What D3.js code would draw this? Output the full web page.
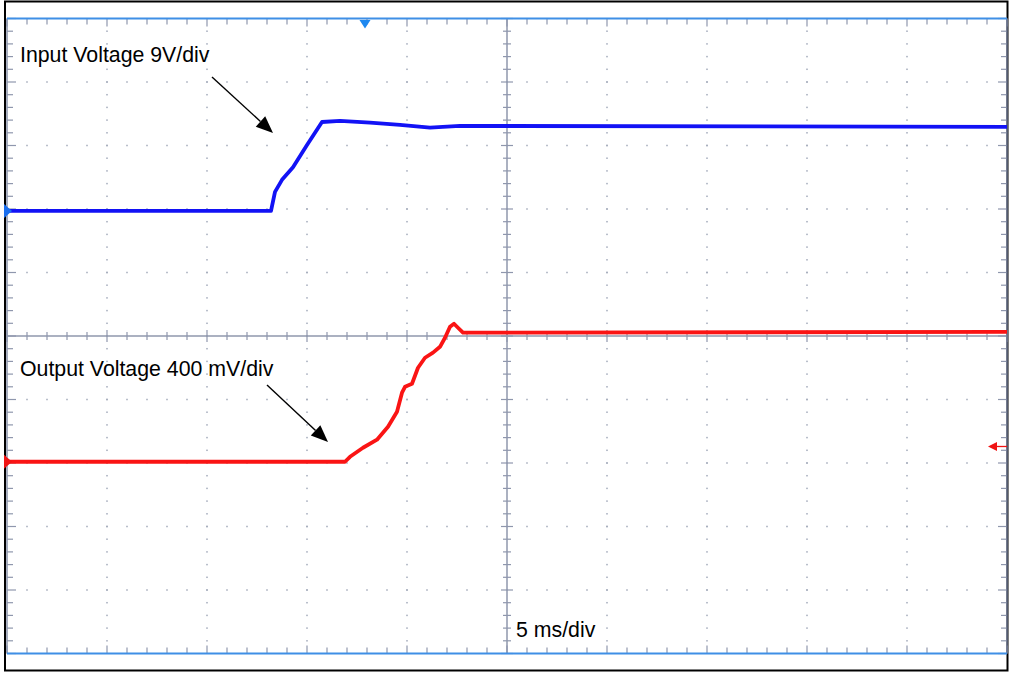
<!DOCTYPE html>
<html>
<head>
<meta charset="utf-8">
<script src="https://cdn.jsdelivr.net/npm/d3@7"></script>
<style>
  html, body { margin: 0; padding: 0; background: #fff; }
  svg { display: block; }
  text { font-family: "Liberation Sans", Arial, sans-serif; fill: #000; }
</style>
</head>
<body>
<svg id="chart" width="1010" height="673"></svg>
<script>
// ---- Data (time in ms, centre of screen = 0 ms; 5 ms/div) ----
const inputTime = [-25, -11.8, -11.6, -11.25, -10.7, -10.0, -9.25, -8.35, -6.85, -5.35, -3.85, -2.35, 25];
const inputVolts = [0, 0, 2.7, 4.4, 6.2, 9.35, 12.6, 12.75, 12.5, 12.2, 11.8, 12.05, 11.9];   // 9 V/div
const outputTime = [-25, -8.1, -7.85, -7.2, -6.5, -5.95, -5.5, -5.25, -5.1, -4.75, -4.45, -4.1, -3.7, -3.35, -3.1, -2.85, -2.65, -2.45, -2.2, -1.85, 25];
const outputVolts = [0, 0, 0.031, 0.088, 0.139, 0.22, 0.315, 0.435, 0.472, 0.491, 0.592, 0.655, 0.687, 0.724, 0.781, 0.85, 0.869, 0.844, 0.813, 0.813, 0.818]; // 400 mV/div
const labels = ["Input Voltage 9V/div", "Output Voltage 400 mV/div", "5 ms/div"];
const timeDomain = [-25, 25];
const divDomain = [-5, 5];
const inputScale = 9, inputOffsetDiv = 1.97;
const outputScale = 0.4, outputOffsetDiv = -1.98;
const triggerTime = -7.1;
const triggerLevelDiv = -1.74;

// ---- Drawing ----
const svg = d3.select("#chart");
const x = d3.scaleLinear().domain(timeDomain).range([7, 1007]);
const y = d3.scaleLinear().domain(divDomain).range([653.5, 18.5]);

// outer frame
svg.append("rect").attr("x", 5).attr("y", 1.5).attr("width", 1002.5).attr("height", 669)
  .attr("fill", "none").attr("stroke", "#000").attr("stroke-width", 2);

const gridCol = "#8f97ad";
const g = svg.append("g");

const majorX = d3.range(-25, 25.001, 5);
const minorX = d3.range(-25, 25.001, 1);
const majorY = d3.range(-5, 5.001, 1);
const minorY = d3.range(-5, 5.001, 0.2);

// dotted grid
majorX.filter(v => v !== 0 && Math.abs(v) !== 25).forEach(v => {
  g.selectAll(null).data(minorY.filter(m => Math.abs(m) < 4.99)).enter().append("rect")
    .attr("x", x(v) - 0.75).attr("y", d => y(d) - 0.75).attr("width", 1.5).attr("height", 1.5)
    .attr("fill", "#a3aabb");
});
majorY.filter(v => v !== 0 && Math.abs(v) !== 5).forEach(v => {
  g.selectAll(null).data(minorX.filter(m => Math.abs(m) < 24.99)).enter().append("rect")
    .attr("x", d => x(d) - 0.75).attr("y", y(v) - 0.75).attr("width", 1.5).attr("height", 1.5)
    .attr("fill", "#a3aabb");
});

// centre lines
g.append("line").attr("x1", x(0)).attr("x2", x(0)).attr("y1", y(5)).attr("y2", y(-5))
  .attr("stroke", gridCol).attr("stroke-width", 1.5);
g.append("line").attr("x1", x(-25)).attr("x2", x(25)).attr("y1", y(0)).attr("y2", y(0))
  .attr("stroke", gridCol).attr("stroke-width", 1.5);

function isMajor(v, step) { return Math.abs(v / step - Math.round(v / step)) < 1e-6; }

// ticks on centre lines
minorY.forEach(v => {
  const L = isMajor(v, 1) ? 6 : 4;
  g.append("line").attr("x1", x(0) - L).attr("x2", x(0) + L).attr("y1", y(v)).attr("y2", y(v))
    .attr("stroke", gridCol).attr("stroke-width", 1.2);
});
minorX.forEach(v => {
  const L = isMajor(v, 5) ? 6 : 4;
  g.append("line").attr("y1", y(0) - L).attr("y2", y(0) + L).attr("x1", x(v)).attr("x2", x(v))
    .attr("stroke", gridCol).attr("stroke-width", 1.2);
});

// edge ticks
minorX.forEach(v => {
  const L = isMajor(v, 5) ? 8 : 6;
  g.append("line").attr("x1", x(v)).attr("x2", x(v)).attr("y1", y(5)).attr("y2", y(5) + L)
    .attr("stroke", gridCol).attr("stroke-width", 1.2);
  g.append("line").attr("x1", x(v)).attr("x2", x(v)).attr("y1", y(-5)).attr("y2", y(-5) - L)
    .attr("stroke", gridCol).attr("stroke-width", 1.2);
});
minorY.forEach(v => {
  const L = isMajor(v, 1) ? 9 : 6;
  g.append("line").attr("x1", x(-25)).attr("x2", x(-25) + L).attr("y1", y(v)).attr("y2", y(v))
    .attr("stroke", gridCol).attr("stroke-width", 1.2);
  g.append("line").attr("x1", x(25)).attr("x2", x(25) - L).attr("y1", y(v)).attr("y2", y(v))
    .attr("stroke", gridCol).attr("stroke-width", 1.2);
});

// side borders
g.append("line").attr("x1", x(-25)).attr("x2", x(-25)).attr("y1", y(5)).attr("y2", y(-5))
  .attr("stroke", "#8a93aa").attr("stroke-width", 1.5);
g.append("line").attr("x1", x(25)).attr("x2", x(25)).attr("y1", y(5)).attr("y2", y(-5))
  .attr("stroke", "#6f7892").attr("stroke-width", 1.5);
// top / bottom borders
[5, -5].forEach(v => {
  g.append("line").attr("x1", x(-25)).attr("x2", x(25)).attr("y1", y(v)).attr("y2", y(v))
    .attr("stroke", "#3f8fe6").attr("stroke-width", 2.2);
});

// traces
const line = d3.line().x(d => x(d[0])).y(d => y(d[1]));
const inputPts = inputTime.map((t, i) => [t, inputVolts[i] / inputScale + inputOffsetDiv]);
const outputPts = outputTime.map((t, i) => [t, outputVolts[i] / outputScale + outputOffsetDiv]);
svg.append("path").attr("d", line(inputPts)).attr("fill", "none")
  .attr("stroke", "#1212f5").attr("stroke-width", 3.8).attr("stroke-linejoin", "round");
svg.append("path").attr("d", line(outputPts)).attr("fill", "none")
  .attr("stroke", "#fa1414").attr("stroke-width", 3.8).attr("stroke-linejoin", "round");

// channel ground markers (left)
const mk = (yy, col) => svg.append("path")
  .attr("d", `M4,${yy - 7} L4,${yy + 7} L12,${yy} Z`).attr("fill", col);
mk(y(inputOffsetDiv), "#1a6ff0");
mk(y(outputOffsetDiv), "#f01414");

// trigger position marker (top)
const tx = x(triggerTime), ty = y(5);
svg.append("path").attr("d", `M${tx - 5.5},${ty + 1.5} L${tx + 5.5},${ty + 1.5} L${tx},${ty + 10} Z`)
  .attr("fill", "#1e88f0");

// trigger level marker (right)
const ly = y(triggerLevelDiv);
svg.append("line").attr("x1", x(25) - 10).attr("x2", x(25)).attr("y1", ly).attr("y2", ly)
  .attr("stroke", "#f01414").attr("stroke-width", 1.3);
svg.append("path").attr("d", `M${x(25) - 19},${ly} L${x(25) - 10},${ly - 4.5} L${x(25) - 10},${ly + 4.5} Z`)
  .attr("fill", "#f01414");

// labels
svg.append("text").attr("x", 20).attr("y", 62).attr("font-size", 21.3).text(labels[0]);
svg.append("text").attr("x", 20).attr("y", 376).attr("font-size", 21.3).text(labels[1]);
svg.append("text").attr("x", x(0) + 9).attr("y", 637).attr("font-size", 21.3).text(labels[2]);

// annotation arrows
function arrow(x1, y1, x2, y2) {
  const ang = Math.atan2(y2 - y1, x2 - x1);
  const len = 17, half = 7;
  const bx = x2 - len * Math.cos(ang), by = y2 - len * Math.sin(ang);
  svg.append("line").attr("x1", x1).attr("y1", y1).attr("x2", bx).attr("y2", by)
    .attr("stroke", "#000").attr("stroke-width", 1.4);
  const px = -Math.sin(ang) * half, py = Math.cos(ang) * half;
  svg.append("path").attr("d", `M${x2},${y2} L${bx + px},${by + py} L${bx - px},${by - py} Z`).attr("fill", "#000");
}
arrow(212, 77, 273, 133);
arrow(267, 385, 328, 442);
</script>
</body>
</html>
